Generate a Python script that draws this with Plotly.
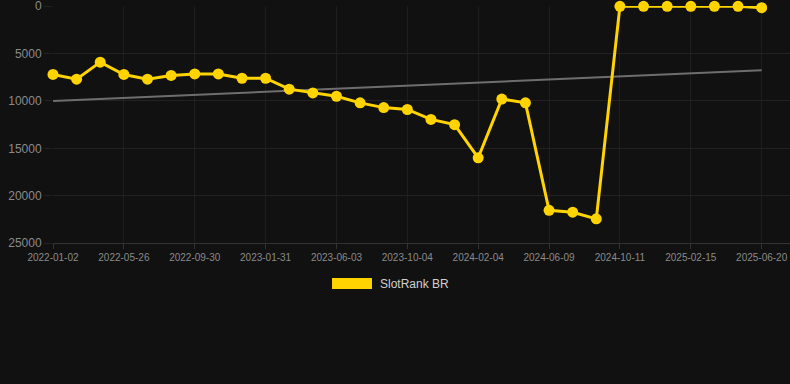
import plotly.graph_objects as go

dates = [
    "2022-01-02", "2022-02-19", "2022-04-08", "2022-05-26", "2022-07-07", "2022-08-18",
    "2022-09-30", "2022-11-10", "2022-12-21", "2023-01-31", "2023-03-13", "2023-04-23",
    "2023-06-03", "2023-07-14", "2023-08-24", "2023-10-04", "2023-11-14", "2023-12-25",
    "2024-02-04", "2024-03-17", "2024-04-28", "2024-06-09", "2024-07-20", "2024-08-31",
    "2024-10-11", "2024-11-22", "2025-01-03", "2025-02-15", "2025-03-29", "2025-05-09",
    "2025-06-20",
]
rank = [
    7200, 7700, 5900, 7200, 7700, 7300, 7150, 7150, 7600, 7600,
    8750, 9150, 9500, 10200, 10700, 10900, 11950, 12500, 16000, 9800,
    10200, 21550, 21750, 22450, 1, 1, 1, 1, 1, 1, 150,
]
trend_x = [dates[0], dates[-1]]
trend_y = [10000, 6750]
tick_labels = dates[::3]
y_ticks = [0, 5000, 10000, 15000, 20000, 25000]
series_name = "SlotRank BR"

BG = "#111111"
GRID = "#222222"
GOLD = "#FFD400"

fig = go.Figure()
fig.add_trace(go.Scatter(
    x=trend_x, y=trend_y, mode="lines",
    line=dict(color="#6e6e6e", width=2), showlegend=False, hoverinfo="skip",
))
fig.add_trace(go.Scatter(
    x=dates, y=rank, mode="lines+markers", name=series_name,
    line=dict(color=GOLD, width=3), marker=dict(color=GOLD, size=11),
    cliponaxis=False, showlegend=False,
))

fig.update_layout(
    width=790, height=384,
    paper_bgcolor=BG, plot_bgcolor=BG,
    margin=dict(l=53, r=0, t=6, b=141),
    font=dict(family="Arial, Liberation Sans, sans-serif", color="#8a8a8a"),
    xaxis=dict(
        type="category", categoryorder="array", categoryarray=dates,
        range=[0, 31.2], tickvals=tick_labels, ticktext=tick_labels,
        showgrid=True, gridcolor="#1e1e1e", gridwidth=1,
        showline=True, linecolor="#333333", linewidth=1,
        ticks="outside", ticklen=5, tickcolor="#333333",
        tickfont=dict(size=10, color="#8a8a8a"), zeroline=False,
        ticklabeloverflow="allow",
    ),
    yaxis=dict(
        range=[25000, -30], tickvals=y_ticks, ticktext=[str(v) for v in y_ticks],
        showgrid=True, gridcolor=GRID, gridwidth=1,
        ticks="outside", ticklen=8, tickcolor=GRID,
        tickfont=dict(size=12, color="#8a8a8a"), zeroline=False, showline=False,
        ticklabeloverflow="allow",
    ),
    shapes=[dict(
        type="rect", xref="paper", yref="paper",
        x0=0.3786, x1=0.4328, y0=-0.194, y1=-0.1477,
        fillcolor=GOLD, line=dict(width=0),
    )],
    annotations=[dict(
        text=series_name, xref="paper", yref="paper",
        x=0.441, y=-0.171, xanchor="left", yanchor="middle",
        showarrow=False, font=dict(size=12, color="#d0d0d0"),
    )],
)

fig.write_html(
    "out.html",
    config={"displayModeBar": False},
    post_script="document.body.style.margin='0';document.body.style.background='#111111';",
)
